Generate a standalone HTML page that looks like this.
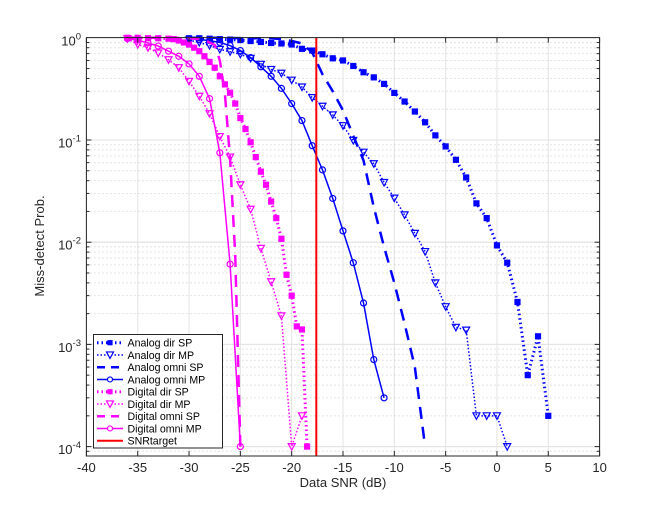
<!DOCTYPE html>
<html><head><meta charset="utf-8"><style>
html,body{margin:0;padding:0;background:#fff;}
svg text{font-family:"Liberation Sans",Arial,sans-serif;}
</style></head><body>
<svg id="chart" width="664" height="513" viewBox="0 0 664 513" xmlns="http://www.w3.org/2000/svg">
<rect width="664" height="513" fill="#fff"/>
<g id="grid"></g>
<g id="series"></g>
<g id="axes"></g>
<g id="legend"></g>
</svg>
<script>
const xTicks = [-40,-35,-30,-25,-20,-15,-10,-5,0,5,10];
const yDecades = [0,-1,-2,-3,-4];
const snrTarget = -17.6;

const adSPx = [-30,-29,-28,-27,-26,-25,-24,-23,-22,-21,-20,-19,-18,-17,-16,-15,-14,-13,-12,-11,-10,-9,-8,-7,-6,-5,-4,-3,-2,-1,0,1,2,3,4,5];
const adSPy = [0.99,0.99,0.98,0.97,0.96,0.95,0.93,0.91,0.89,0.88,0.86,0.78,0.75,0.69,0.63,0.6,0.53,0.46,0.41,0.354,0.289,0.238,0.19,0.149,0.111,0.0865,0.064,0.043,0.024,0.0172,0.0093,0.0063,0.0026,0.0005,0.0012,0.0002];

const adMPx = [-30,-29,-28,-27,-26,-25,-24,-23,-22,-21,-20,-19,-18,-17,-16,-15,-14,-13,-12,-11,-10,-9,-8,-7,-6,-5,-4,-3,-2,-1,0,1];
const adMPy = [0.95,0.9,0.84,0.77,0.73,0.69,0.63,0.55,0.49,0.45,0.385,0.33,0.26,0.214,0.176,0.138,0.099,0.076,0.0586,0.0384,0.027,0.0185,0.0122,0.0081,0.004,0.00234,0.00147,0.00138,0.0002,0.0002,0.0002,0.0001];

const aoSPx = [-30,-28,-26,-24,-22,-21,-20,-19,-18,-17,-16,-15,-14,-13,-12,-11,-10,-9,-8,-7];
const aoSPy = [1,1,0.995,0.99,0.99,0.97,0.93,0.88,0.72,0.44,0.3,0.195,0.11,0.063,0.022,0.009,0.004,0.0016,0.0006,0.0001];

const aoMPx = [-29,-28,-27,-26,-25,-24,-23,-22,-21,-20,-19,-18,-17,-16,-15,-14,-13,-12,-11];
const aoMPy = [0.96,0.94,0.9,0.84,0.75,0.64,0.52,0.42,0.32,0.227,0.155,0.088,0.051,0.0268,0.0129,0.0063,0.00254,0.00071,0.0003];

const ddSPx = [-36,-35,-34,-33,-32,-31.5,-31,-30.5,-30,-29.5,-29,-28.5,-28,-27.5,-27,-26.5,-26,-25.5,-25,-24.5,-24,-23.5,-23,-22.5,-22,-21.5,-21,-20.5,-20,-19.5,-19,-18.5];
const ddSPy = [1,1,0.99,0.99,0.98,0.97,0.94,0.9,0.86,0.8,0.74,0.66,0.58,0.51,0.42,0.35,0.29,0.227,0.164,0.128,0.095,0.068,0.049,0.0365,0.025,0.0172,0.0108,0.0048,0.003,0.0015,0.0014,0.0001];

const ddMPx = [-36,-35,-34,-33,-32,-31,-30,-29,-28,-27,-26,-25,-24,-23,-22,-21,-20,-19];
const ddMPy = [0.98,0.86,0.8,0.71,0.61,0.51,0.375,0.268,0.181,0.108,0.068,0.0365,0.021,0.0087,0.0041,0.0019,0.0001,0.0002];

const doSPx = [-36,-34,-32,-30,-29,-28.5,-28,-27.5,-27,-26.5,-26,-25.5,-25];
const doSPy = [1,1,1,0.99,0.97,0.95,0.9,0.85,0.6,0.28,0.065,0.0075,0.0001];

const doMPx = [-36,-35,-34,-33,-32,-31,-30,-29,-28,-27,-26,-25];
const doMPy = [0.98,0.95,0.89,0.83,0.74,0.66,0.555,0.42,0.254,0.075,0.0061,0.0001];

const L=86.4, R=599.6, T=37.6, B=456, Y0=37.8, DEC=102.2;
const xs = v => L + (v+40)*(R-L)/50;
const ys = v => Y0 - Math.log10(v)*DEC;
const NS="http://www.w3.org/2000/svg";
function mk(tag, attrs, parent){const e=document.createElementNS(NS,tag);for(const k in attrs)e.setAttribute(k,attrs[k]);parent.appendChild(e);return e;}
const grid=document.getElementById('grid'), axes=document.getElementById('axes'), ser=document.getElementById('series'), leg=document.getElementById('legend');

xTicks.forEach(t=>{
  const g=mk('line',{x1:xs(t),x2:xs(t),y1:T,y2:B,stroke:'#e3e3e3','stroke-width':1},grid);
  
  
});
for(let d=0; d>=-4; d--){
  for(let m=1;m<=9;m++){
    const v=m*Math.pow(10,d-1);
    const y=ys(v);
    if(y<T-0.5||y>B) continue;
    const g=mk('line',{x1:L,x2:R,y1:y,y2:y,stroke:m===1?'#e3e3e3':'#c8c8c8','stroke-width':1,'stroke-dasharray':m===1?'none':'1,3'},grid);
    
    
  }
}
yDecades.forEach(d=>{const y=ys(Math.pow(10,d));
  const g=mk('line',{x1:L,x2:R,y1:y,y2:y,stroke:'#e3e3e3','stroke-width':1},grid);
  
  
});

function series(name, xArr, yArr, color, width, dash, marker, msize){
  const g=mk('g',{},ser);
  
  
  const pts=xArr.map((x,i)=>xs(x).toFixed(2)+','+ys(yArr[i]).toFixed(2)).join(' ');
  const pl=mk('polyline',{points:pts,fill:'none',stroke:color,'stroke-width':width,'stroke-dasharray':dash,'stroke-linejoin':'round'},g);
  
  
  if(marker) xArr.forEach((x,i)=>{
    const cx=xs(x), cy=ys(yArr[i]); let m;
    if(marker==='square') m=mk('rect',{x:cx-msize,y:cy-msize,width:2*msize,height:2*msize,fill:color,stroke:color,'stroke-width':1},g);
    else if(marker==='tri') m=mk('polygon',{points:`${cx-3.5},${cy-3} ${cx+3.5},${cy-3} ${cx},${cy+3.5}`,fill:'none',stroke:color,'stroke-width':1.2},g);
    else m=mk('circle',{cx:cx,cy:cy,r:3,fill:'none',stroke:color,'stroke-width':1.2},g);
    
    
  });
}
const BL='#0000ff', MG='#ff00ff';
series('analog-dir-sp',adSPx,adSPy,BL,3,'1.5,3','square',2.6);
series('analog-dir-mp',adMPx,adMPy,BL,1.5,'1.5,2','tri');
series('analog-omni-sp',aoSPx,aoSPy,BL,2.5,'12,8',null);
series('analog-omni-mp',aoMPx,aoMPy,BL,1.5,'none','circle');
series('digital-dir-sp',ddSPx,ddSPy,MG,3,'1.5,3','square',2.6);
series('digital-dir-mp',ddMPx,ddMPy,MG,1.5,'1.5,2','tri');
series('digital-omni-sp',doSPx,doSPy,MG,2.5,'12,8',null);
series('digital-omni-mp',doMPx,doMPy,MG,1.5,'none','circle');
const tl=mk('line',{x1:xs(snrTarget),x2:xs(snrTarget),y1:T,y2:B,stroke:'#ff0000','stroke-width':2},ser);



const box=mk('rect',{x:L,y:T,width:R-L,height:B-T,fill:'none',stroke:'#262626','stroke-width':1},axes);


xTicks.forEach(t=>{
  const x=xs(t);
  mk('line',{x1:x,x2:x,y1:B,y2:B-5,stroke:'#262626'},axes);
  mk('line',{x1:x,x2:x,y1:T,y2:T+5,stroke:'#262626'},axes);
  const tx=mk('text',{x:x,y:472,'font-size':13,'text-anchor':'middle',fill:'#262626'},axes);
  tx.textContent=String(t);
  
  
});
for(let d=0; d>=-4; d--){
  for(let m=1;m<=9;m++){
    const y=ys(m*Math.pow(10,d-1)); if(y<T-0.5||y>B) continue;
    const len=m===1?5:3;
    mk('line',{x1:L,x2:L+len,y1:y,y2:y,stroke:'#262626'},axes);
    mk('line',{x1:R,x2:R-len,y1:y,y2:y,stroke:'#262626'},axes);
  }
}
yDecades.forEach(d=>{
  const y=ys(Math.pow(10,d));
  const tx=mk('text',{x:81,y:y+7.5,'font-size':13,'text-anchor':'end',fill:'#262626'},axes);
  tx.textContent='10';
  const sp=mk('tspan',{dy:-6,'font-size':9.5},tx);
  sp.textContent=String(d);
  
  
});
const xl=mk('text',{x:343,y:487,'font-size':13,'text-anchor':'middle',fill:'#262626'},axes);
xl.textContent='Data SNR (dB)';


const yl=mk('text',{x:0,y:0,'font-size':13,'text-anchor':'middle',fill:'#262626',transform:'translate(49,246) rotate(-90)'},axes);
yl.setAttribute('transform','translate(44,246) rotate(-90)');
yl.textContent='Miss-detect Prob.';



const legNames=['Analog dir SP','Analog dir MP','Analog omni SP','Analog omni MP','Digital dir SP','Digital dir MP','Digital omni SP','Digital omni MP','SNRtarget'];
const legStyle=[[BL,3,'1.5,3','square'],[BL,1.5,'1.5,2','tri'],[BL,2.5,'8,6',null],[BL,1.5,'none','circle'],[MG,3,'1.5,3','square'],[MG,1.5,'1.5,2','tri'],[MG,2.5,'8,6',null],[MG,1.5,'none','circle'],['#ff0000',2,'none',null]];
const lb=mk('rect',{x:93.5,y:334.5,width:129,height:113.5,fill:'#fff',stroke:'#262626','stroke-width':1},leg);


legNames.forEach((n,i)=>{
  const y=342.7+i*12.25; const s=legStyle[i];
  const g=mk('g',{},leg);
  
  
  mk('line',{x1:97,x2:123,y1:y,y2:y,stroke:s[0],'stroke-width':s[1],'stroke-dasharray':s[2]},g);
  const cx=110;
  if(s[3]==='square') mk('rect',{x:cx-2.6,y:y-2.6,width:5.2,height:5.2,fill:s[0]},g);
  else if(s[3]==='tri') mk('polygon',{points:`${cx-3.5},${y-3} ${cx+3.5},${y-3} ${cx},${y+3.5}`,fill:'#fff',stroke:s[0],'stroke-width':1.2},g);
  else if(s[3]==='circle') mk('circle',{cx:cx,cy:y,r:2.5,fill:'#fff',stroke:s[0],'stroke-width':1.2},g);
  const t=mk('text',{x:127.5,y:y+4,'font-size':10.6,fill:'#000'},g);
  t.textContent=n;
});
</script>
</body></html>
